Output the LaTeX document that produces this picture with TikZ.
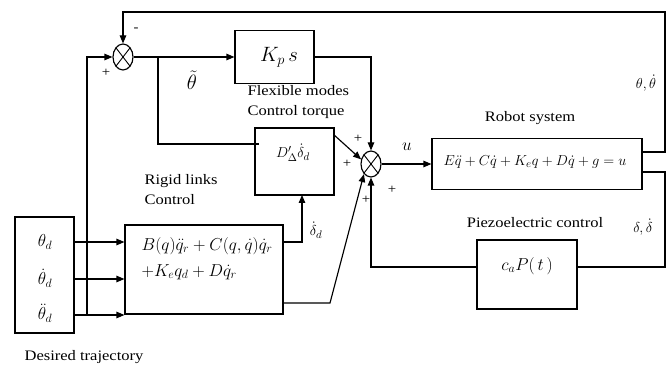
\documentclass[tikz,border=0pt]{standalone}
\usepackage{fontspec}
\setmainfont{Liberation Serif}[FakeStretch=1.14]
\usetikzlibrary{arrows.meta,shapes.geometric}
\begin{document}
\begin{tikzpicture}[x=1pt,y=-1pt,line width=1.15pt,
  blk/.style={draw,rectangle,inner sep=0pt},
  sumj/.style={draw,ellipse,minimum width=20pt,minimum height=26pt,inner sep=0pt,
    path picture={\draw[line width=0.9pt] (path picture bounding box.north west) -- (path picture bounding box.south east)
      (path picture bounding box.north east) -- (path picture bounding box.south west);}},
  arr/.style={-{Triangle[length=8pt,width=6.5pt]}},
  lbl/.style={inner sep=0pt,font=\fontsize{14.5}{20}\selectfont},
  sgn/.style={inner sep=0pt,font=\fontsize{13}{14}\selectfont},
  mth/.style={inner sep=0pt,font=\fontsize{15}{17}\selectfont},
  rgm/.style={inner sep=0pt,font=\fontsize{17}{19}\selectfont},
  bigm/.style={inner sep=0pt,font=\fontsize{18}{20}\selectfont},
  hugem/.style={inner sep=0pt,font=\fontsize{21}{23}\selectfont}]
\fill[white] (0,0) rectangle (669,366);
\useasboundingbox (0,0) rectangle (669,366);

% junctions
\node[sumj] (sA) at (123,57) {};
\node[sumj] (sB) at (371,164) {};

% blocks
\node[blk,minimum width=79pt,minimum height=53pt] (kp) at (274.5,57) {};
\node[hugem] (kpt) at (279,57) {$K_p\,s$};
\node[blk,minimum width=79pt,minimum height=67pt] (dp) at (294.5,161.5) {};
\node[mth] (dpt) at (293,153) {$D'_{\Delta}\dot{\delta}_d$};
\node[blk,minimum width=158pt,minimum height=89pt] (rg) at (204,269.5) {};
\node[rgm,anchor=west] (rg1) at (141,246) {$B(q)\ddot q_r + C(q,\dot q)\dot q_r$};
\node[rgm,anchor=west] (rg2) at (141,272) {$+ K_e q_d + D\dot q_r$};
\node[blk,minimum width=59pt,minimum height=116pt] (tr) at (44.5,275) {};
\node[bigm] (th1) at (45,242) {$\theta_d$};
\node[bigm] (th2) at (45,278) {$\dot\theta_d$};
\node[bigm] (th3) at (45,313) {$\ddot\theta_d$};
\node[blk,minimum width=210pt,minimum height=51pt] (rb) at (537,164) {};
\node[mth] (rbt) at (535,162) {$E\ddot q + C\dot q + K_e q + D\dot q + g = u$};
\node[blk,minimum width=100pt,minimum height=69pt] (pz) at (527,274.5) {};
\node[bigm] (pzt) at (527,266) {$c_a P(\,t\,)$};

% coordinates
\coordinate (fbTR) at (665,12);
\coordinate (fbBR) at (665,152);
\coordinate (pzR) at (665,172);
\coordinate (pzRB) at (665,267);
\coordinate (br) at (158,57);
\coordinate (dpIn) at (259,144);
\coordinate (dIn) at (302,195);
\coordinate (rgLow) at (330,303);
\coordinate (vb) at (87,315);

% connectors
\draw[arr] (rb.east |- fbBR) -- (fbBR) -- (fbTR) -- (sA.north |- fbTR) -- (sA.north);
\draw (rb.east |- pzR) -- (pzR) -- (pzRB) -- (pz.east |- pzRB);
\draw[arr] (pz.west |- pzRB) -| (sB.south);
\draw[arr] (sB.east) -- (rb.west |- sB.east);
\draw[arr] (sA.east) -- (kp.west |- sA.east);
\draw (br) |- (dpIn);
\draw[arr] (kp.east) -| (sB.north);
\draw[arr] ([yshift=-8pt]dp.north east) -- (sB.155);
\draw[arr] (rg.east |- 0,242) -| (dIn);
\draw[arr] (rg.east |- rgLow) -- (rgLow) -- (sB.235);
\draw[arr] (tr.east |- 0,242) -- (rg.west |- 0,242);
\draw[arr] (tr.east |- 0,279) -- (rg.west |- 0,279);
\draw[arr] (tr.east |- 0,315) -- (rg.west |- 0,315);
\draw[arr] (vb) |- (sA.west);

% labels
\node[sgn] (mA) at (136,30) {-};
\node[sgn] (pA) at (106,73) {+};
\node[hugem] (etil) at (192,80) {$\tilde\theta$};
\node[lbl,anchor=west,align=left] (flex) at (247,102) {Flexible modes\\Control torque};
\node[lbl,anchor=west,align=left] (rigid) at (144,190) {Rigid links\\Control};
\node[lbl] (robs) at (530,118) {Robot system};
\node[lbl] (piez) at (535,223) {Piezoelectric control};
\node[lbl] (desr) at (84,357) {Desired trajectory};
\node[bigm] (ulab) at (407,147) {$u$};
\node[mth] (thl) at (646,83) {$\theta,\dot\theta$};
\node[mth] (dll) at (643,227) {$\delta,\dot\delta$};
\node[mth] (ddl) at (316,230) {$\dot\delta_d$};
\node[sgn] (p1) at (358,139) {+};
\node[sgn] (p2) at (347,164) {+};
\node[sgn] (p3) at (366,200) {+};
\node[sgn] (p4) at (392,190) {+};
\end{tikzpicture}
\end{document}
